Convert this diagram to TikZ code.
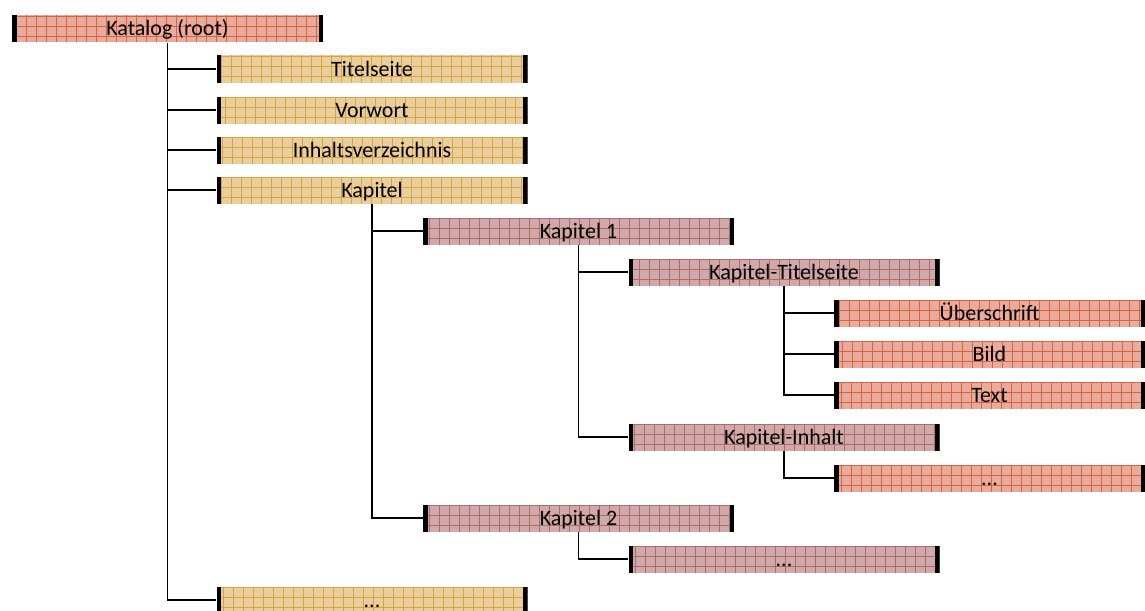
\documentclass[tikz,border=0pt]{standalone}
\usepackage{fontspec}
\setmainfont{Carlito}
\usetikzlibrary{positioning}

\definecolor{rootfill}{HTML}{E9AB9B}
\definecolor{rootgrid}{HTML}{D8643F}
\definecolor{partfill}{HTML}{EACF9D}
\definecolor{partgrid}{HTML}{D5A544}
\definecolor{chapfill}{HTML}{D1A9A9}
\definecolor{chapgrid}{HTML}{A96D6D}

\begin{document}
\begin{tikzpicture}[x=1pt,y=-1pt,thick,
  box/.style 2 args={rectangle,fill=#1,minimum width=311pt,minimum height=27pt,
    inner sep=0pt,text height=14pt,text depth=0pt,font=\fontsize{22}{24}\selectfont,
    path picture={
      \draw[#2,line width=0.6pt,step=10pt]
        (path picture bounding box.south west) grid (path picture bounding box.north east);
      \fill[black] (path picture bounding box.south west) rectangle ++(4.5pt,27pt);
      \fill[black] (path picture bounding box.south east) rectangle ++(-4.5pt,27pt);
    }},
  red node/.style={box={rootfill}{rootgrid}},
  tan node/.style={box={partfill}{partgrid}},
  mauve node/.style={box={chapfill}{chapgrid}},
  link/.style={line width=1.5pt,black}]

  \useasboundingbox (0,0) rectangle (1145,610);

  \node[red node] (root) at (167.5,29) {Katalog (root)};

  \node[tan node] (titel) at (372,69) {Titelseite};
  \node[tan node] (vorwort) at (372,110) {Vorwort};
  \node[tan node] (inhalt) at (372,150) {Inhaltsverzeichnis};
  \node[tan node] (kapitel) at (372,190) {Kapitel};
  \node[tan node] (more1) at (372,600) {...};

  \node[mauve node] (kap1) at (578.5,231) {Kapitel 1};
  \node[mauve node] (kap2) at (578.5,518) {Kapitel 2};
  \node[mauve node] (kaptitel) at (784,272) {Kapitel-Titelseite};
  \node[mauve node] (kapinhalt) at (784,437) {Kapitel-Inhalt};
  \node[mauve node] (more2) at (784,559) {...};

  \node[red node] (ueber) at (989.5,313) {Überschrift};
  \node[red node] (bild) at (989.5,354) {Bild};
  \node[red node] (text) at (989.5,395) {Text};
  \node[red node] (more3) at (989.5,478) {...};

  % tree links
  \draw[link] (root.south) |- (titel.west);
  \draw[link] (root.south) |- (vorwort.west);
  \draw[link] (root.south) |- (inhalt.west);
  \draw[link] (root.south) |- (kapitel.west);
  \draw[link] (root.south) |- (more1.west);

  \draw[link] (kapitel.south) |- (kap1.west);
  \draw[link] (kapitel.south) |- (kap2.west);

  \draw[link] (kap1.south) |- (kaptitel.west);
  \draw[link] (kap1.south) |- (kapinhalt.west);
  \draw[link] (kap2.south) |- (more2.west);

  \draw[link] (kaptitel.south) |- (ueber.west);
  \draw[link] (kaptitel.south) |- (bild.west);
  \draw[link] (kaptitel.south) |- (text.west);
  \draw[link] (kapinhalt.south) |- (more3.west);

\end{tikzpicture}
\end{document}
